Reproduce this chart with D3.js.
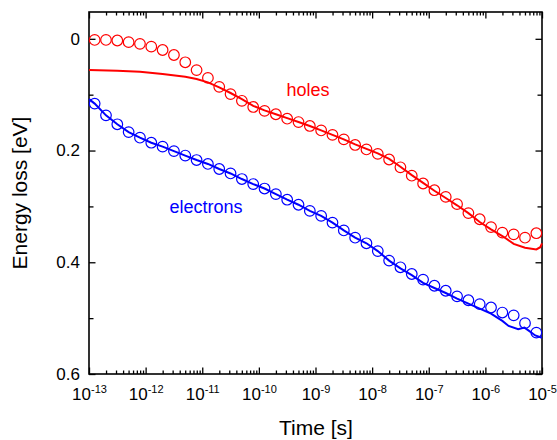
<!DOCTYPE html>
<html>
<head>
<meta charset="utf-8">
<script src="https://cdn.jsdelivr.net/npm/d3@7"></script>
<style>
    body { margin: 0; background: #fff; }
    text { font-family: "Liberation Sans", Arial, sans-serif; }
</style>
</head>
<body>
<svg id="chart" width="557" height="440"></svg>
<script>

    // time exponents (10^x s) of the open symbols
    var circleExp = [-12.9, -12.7, -12.5, -12.3, -12.1, -11.9, -11.7, -11.5, -11.3, -11.1,
        -10.9, -10.7, -10.5, -10.3, -10.1, -9.9, -9.7, -9.5, -9.3, -9.1,
        -8.9, -8.7, -8.5, -8.3, -8.1, -7.9, -7.7, -7.5, -7.3, -7.1,
        -6.9, -6.7, -6.5, -6.3, -6.1, -5.9, -5.7, -5.5, -5.3, -5.1]

    var holesCircles = [0.002, 0.002, 0.003, 0.006, 0.009, 0.014, 0.020, 0.029, 0.042, 0.056,
        0.070, 0.086, 0.099, 0.111, 0.122, 0.129, 0.135, 0.143, 0.149, 0.156,
        0.164, 0.172, 0.180, 0.190, 0.198, 0.206, 0.216, 0.230, 0.245, 0.259,
        0.271, 0.283, 0.296, 0.312, 0.323, 0.337, 0.347, 0.350, 0.356, 0.348]

    var electronsCircles = [0.116, 0.137, 0.153, 0.167, 0.177, 0.186, 0.193, 0.201, 0.209, 0.217,
        0.224, 0.233, 0.241, 0.251, 0.260, 0.268, 0.278, 0.288, 0.297, 0.308,
        0.317, 0.329, 0.343, 0.356, 0.366, 0.380, 0.397, 0.409, 0.421, 0.431,
        0.442, 0.451, 0.461, 0.468, 0.475, 0.481, 0.490, 0.495, 0.509, 0.526]

    // solid curves
    var holesLineExp = [-13, -12.5, -12.1, -11.7, -11.3, -11.1, -10.9, -10.7, -10.5, -10.3,
        -10.1, -9.9, -9.7, -9.5, -9.3, -9.1, -8.9, -8.7, -8.5, -8.3,
        -8.1, -7.9, -7.7, -7.5, -7.3, -7.1, -6.9, -6.7, -6.5, -6.3,
        -6.1, -5.9, -5.7, -5.5, -5.3, -5.1, -5.03, -5]
    var holesLine = [0.056, 0.057, 0.059, 0.063, 0.068, 0.072, 0.078, 0.087, 0.097, 0.108,
        0.120, 0.128, 0.135, 0.142, 0.149, 0.156, 0.164, 0.172, 0.180, 0.189,
        0.197, 0.205, 0.215, 0.229, 0.244, 0.258, 0.272, 0.285, 0.298, 0.312,
        0.328, 0.341, 0.353, 0.367, 0.374, 0.377, 0.373, 0.366]

    var electronsLineExp = [-13, -12.9, -12.7, -12.5, -12.3, -12.1, -11.9, -11.7, -11.5, -11.3, -11.1,
        -10.9, -10.7, -10.5, -10.3, -10.1, -9.9, -9.7, -9.5, -9.3, -9.1,
        -8.9, -8.7, -8.5, -8.3, -8.1, -7.9, -7.7, -7.5, -7.3, -7.1,
        -6.9, -6.7, -6.5, -6.3, -6.1, -5.9, -5.7, -5.59, -5.42, -5.31, -5.24, -5.12, -5]
    var electronsLine = [0.108, 0.116, 0.137, 0.153, 0.167, 0.177, 0.186, 0.193, 0.201, 0.209, 0.217,
        0.224, 0.233, 0.241, 0.251, 0.260, 0.268, 0.278, 0.288, 0.297, 0.308,
        0.317, 0.329, 0.343, 0.356, 0.366, 0.380, 0.397, 0.411, 0.423, 0.437,
        0.446, 0.455, 0.465, 0.474, 0.483, 0.492, 0.505, 0.514, 0.520, 0.517, 0.522, 0.531, 0.535]

    // axis ticks
    var xTickExps = [-13, -12, -11, -10, -9, -8, -7, -6, -5]
    var yTicks = [0, 0.2, 0.4, 0.6]
    var yTickLabels = ['0', '0.2', '0.4', '0.6']
    var yMinorTicks = [0.1, 0.3, 0.5]

    var red = '#ff0000', blue = '#0000ff'

    var x = d3.scaleLog().domain([1e-13, 1e-5]).range([89, 542])
    var y = d3.scaleLinear().domain([-0.048, 0.6]).range([12, 374])

    var xMajor = xTickExps.map(e => Math.pow(10, e))
    var xMinor = []
    xTickExps.slice(0, -1).forEach(e => {
        d3.range(2, 10).forEach(m => xMinor.push(m * Math.pow(10, e)))
    })

    var svg = d3.select('#chart')

    function styleAxis(g) {
        g.select('.domain').remove()
        g.selectAll('line').attr('stroke', '#000').attr('stroke-width', 1.3)
        g.attr('font-size', 17).attr('font-family', null)
    }

    // bottom axis with labels 10^n
    svg.append('g')
        .attr('transform', 'translate(0,374)')
        .call(d3.axisBottom(x).tickValues(xMajor).tickSize(-6.5).tickSizeOuter(0).tickPadding(14).tickFormat(''))
        .call(styleAxis)
        .call(g => {
            g.selectAll('.tick text')
                .attr('fill', '#000')
                .each(function (d, i) {
                    var t = d3.select(this)
                    t.append('tspan').text('10')
                    t.append('tspan').attr('dy', -7).attr('font-size', 11).text(xTickExps[i])
                })
        })

    svg.append('g')
        .attr('transform', 'translate(0,374)')
        .call(d3.axisBottom(x).tickValues(xMinor).tickSize(-3.5).tickSizeOuter(0).tickFormat(''))
        .call(styleAxis)

    // top axis, ticks only
    svg.append('g')
        .attr('transform', 'translate(0,12)')
        .call(d3.axisTop(x).tickValues(xMajor).tickSize(-6.5).tickSizeOuter(0).tickFormat(''))
        .call(styleAxis)
    svg.append('g')
        .attr('transform', 'translate(0,12)')
        .call(d3.axisTop(x).tickValues(xMinor).tickSize(-3.5).tickSizeOuter(0).tickFormat(''))
        .call(styleAxis)

    // left axis
    svg.append('g')
        .attr('transform', 'translate(89,0)')
        .call(d3.axisLeft(y).tickValues(yTicks).tickSize(-6.5).tickSizeOuter(0).tickPadding(9).tickFormat((d, i) => yTickLabels[i]))
        .call(styleAxis)
        .call(g => g.selectAll('.tick text').attr('fill', '#000'))
    svg.append('g')
        .attr('transform', 'translate(89,0)')
        .call(d3.axisLeft(y).tickValues(yMinorTicks).tickSize(-4.5).tickSizeOuter(0).tickFormat(''))
        .call(styleAxis)

    // right axis, ticks only
    svg.append('g')
        .attr('transform', 'translate(542,0)')
        .call(d3.axisRight(y).tickValues(yTicks).tickSize(-6.5).tickSizeOuter(0).tickFormat(''))
        .call(styleAxis)
    svg.append('g')
        .attr('transform', 'translate(542,0)')
        .call(d3.axisRight(y).tickValues(yMinorTicks).tickSize(-4.5).tickSizeOuter(0).tickFormat(''))
        .call(styleAxis)

    // frame
    svg.append('rect')
        .attr('x', x.range()[0])
        .attr('y', y.range()[0])
        .attr('width', x.range()[1] - x.range()[0])
        .attr('height', y.range()[1] - y.range()[0])
        .attr('fill', 'none')
        .attr('stroke', '#000')
        .attr('stroke-width', 1.6)

    var line = d3.line()
        .x(d => x(Math.pow(10, d[0])))
        .y(d => y(d[1]))

    var series = [
        { color: red, lineExp: holesLineExp, line: holesLine, circles: holesCircles },
        { color: blue, lineExp: electronsLineExp, line: electronsLine, circles: electronsCircles }
    ]

    svg.selectAll('.series')
        .data(series)
        .join('g')
        .attr('class', 'series')
        .call(sel => {

            sel.selectAll('.fit')
                .data(d => [d])
                .join('path')
                .attr('class', 'fit')
                .attr('d', d => line(d.lineExp.map((e, i) => [e, d.line[i]])))
                .attr('fill', 'none')
                .attr('stroke', d => d.color)
                .attr('stroke-width', 2)

            sel.selectAll('.pt')
                .data(d => d.circles.map((v, i) => ({ e: circleExp[i], v: v, color: d.color })))
                .join('circle')
                .attr('class', 'pt')
                .attr('cx', d => x(Math.pow(10, d.e)))
                .attr('cy', d => y(d.v))
                .attr('r', 5.3)
                .attr('fill', 'none')
                .attr('stroke', d => d.color)
                .attr('stroke-width', 1.2)
        })

    // curve labels
    svg.append('text')
        .attr('x', 308).attr('y', 96)
        .attr('text-anchor', 'middle')
        .attr('font-size', 18)
        .attr('fill', red)
        .text('holes')

    svg.append('text')
        .attr('x', 206).attr('y', 213)
        .attr('text-anchor', 'middle')
        .attr('font-size', 18)
        .attr('fill', blue)
        .text('electrons')

    // axis titles
    svg.append('text')
        .attr('x', 316).attr('y', 435)
        .attr('text-anchor', 'middle')
        .attr('font-size', 21)
        .text('Time [s]')

    svg.append('text')
        .attr('transform', 'translate(27,193) rotate(-90)')
        .attr('text-anchor', 'middle')
        .attr('font-size', 21)
        .text('Energy loss [eV]')

</script>
</body>
</html>
